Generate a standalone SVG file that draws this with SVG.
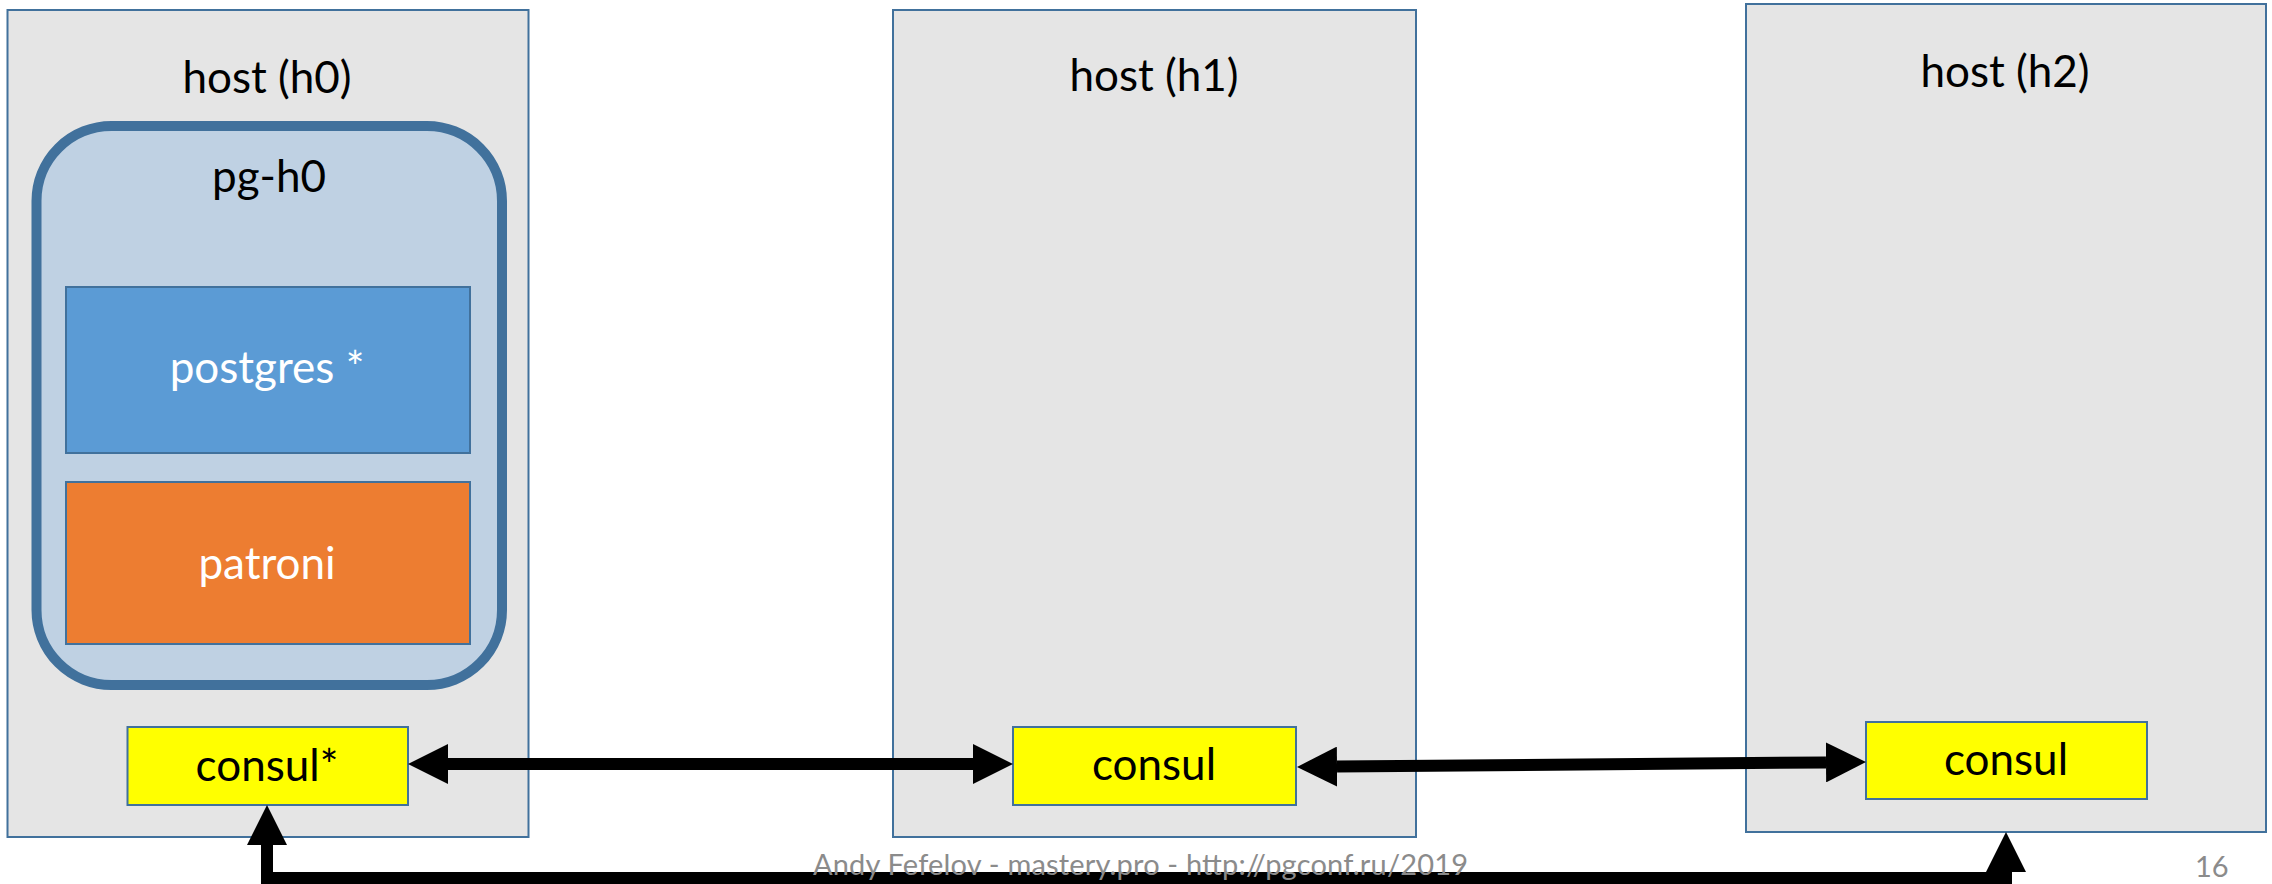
<svg xmlns="http://www.w3.org/2000/svg" width="2272" height="884" viewBox="0 0 2272 884">
<style>
  .host { fill: #e5e5e5; stroke: #41719c; stroke-width: 2; }
  .pg { fill: #bfd1e3; stroke: #41719c; stroke-width: 10; }
  .pgbox { fill: #5b9bd5; stroke: #41719c; stroke-width: 2; }
  .patroni { fill: #ed7d31; stroke: #41719c; stroke-width: 2; }
  .consul { fill: #ffff00; stroke: #41719c; stroke-width: 2; }
  .lbl { font-family: Lato, "Open Sans", "Liberation Sans", sans-serif; font-size: 44px; text-anchor: middle; fill: #000000; }
  .wlbl { fill: #ffffff; }
  .conn { fill: none; stroke: #000000; stroke-width: 12; }
  .foot { font-family: Lato, "Open Sans", "Liberation Sans", sans-serif; font-size: 29px; fill: #8b8b8b; }
</style>
<defs>
  <marker id="ah" markerUnits="userSpaceOnUse" markerWidth="40" markerHeight="40" viewBox="0 0 40 40" refX="0" refY="20" orient="auto-start-reverse">
    <path d="M0,0 L40,20 L0,40 Z" fill="#000000"/>
  </marker>
</defs>

<g id="host-h0">
  <rect class="host" x="7.5" y="10" width="521" height="827"/>
  <text class="lbl" x="267" y="93">host (h0)</text>
</g>
<g id="pg-h0">
  <rect class="pg" x="36.5" y="126" width="465.5" height="559" rx="75" ry="75"/>
  <text class="lbl" x="269" y="192">pg-h0</text>
</g>
<g id="postgres">
  <rect class="pgbox" x="66" y="287" width="404" height="166"/>
  <text class="lbl wlbl" x="267" y="383">postgres *</text>
</g>
<g id="patroni">
  <rect class="patroni" x="66" y="482" width="404" height="162"/>
  <text class="lbl wlbl" x="267" y="579">patroni</text>
</g>
<g id="consul-h0">
  <rect class="consul" x="127.5" y="727" width="280.5" height="78"/>
  <text class="lbl" x="267" y="781">consul*</text>
</g>

<g id="host-h1">
  <rect class="host" x="893" y="10" width="523" height="827"/>
  <text class="lbl" x="1154" y="91">host (h1)</text>
</g>
<g id="consul-h1">
  <rect class="consul" x="1013" y="727" width="283" height="78"/>
  <text class="lbl" x="1154" y="780">consul</text>
</g>

<g id="host-h2">
  <rect class="host" x="1746" y="4" width="520" height="828"/>
  <text class="lbl" x="2005" y="87">host (h2)</text>
</g>
<g id="consul-h2">
  <rect class="consul" x="1866" y="722" width="281" height="77"/>
  <text class="lbl" x="2006" y="775">consul</text>
</g>

<g id="connectors">
  <path class="conn" d="M448,764 L973,764" marker-start="url(#ah)" marker-end="url(#ah)"/>
  <path class="conn" d="M1337,766.6 L1826,762.4" marker-start="url(#ah)" marker-end="url(#ah)"/>
  <path class="conn" d="M267,845 L267,878 L2006,878 L2006,872" marker-start="url(#ah)" marker-end="url(#ah)"/>
</g>

<g id="footer">
  <text class="foot" x="813" y="875" textLength="655">Andy Fefelov - mastery.pro - http://pgconf.ru/2019</text>
  <text class="foot" x="2195" y="877" font-size="30">16</text>
</g>
</svg>
